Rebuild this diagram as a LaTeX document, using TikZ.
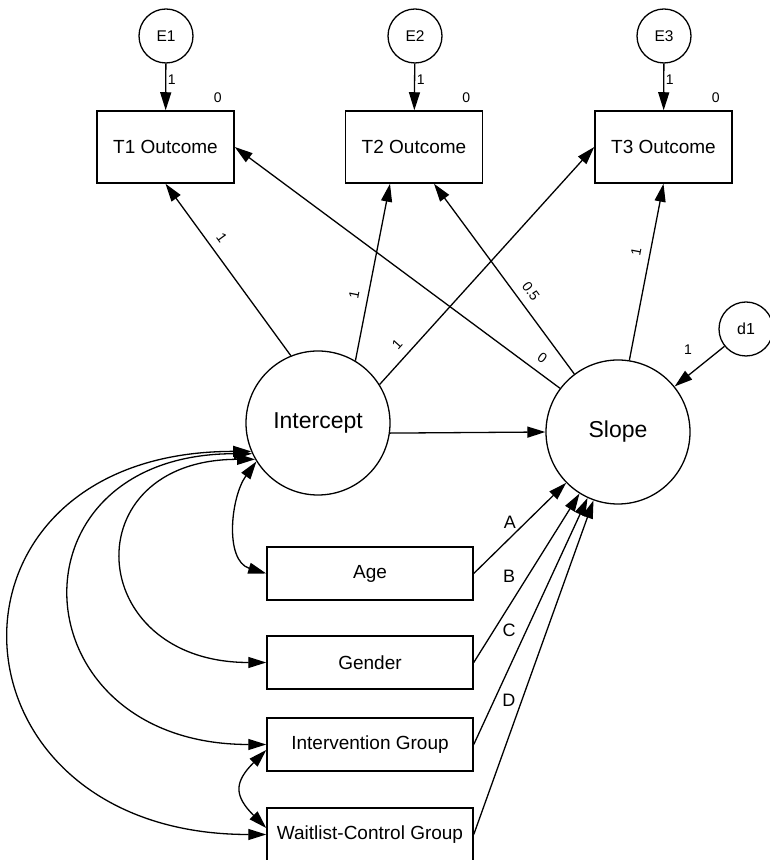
\documentclass[tikz,border=0pt]{standalone}
\usepackage{fontspec}
\setmainfont{Liberation Sans}
\usetikzlibrary{arrows.meta}

\tikzset{
  latent/.style={draw, circle, line width=1.3pt, minimum size=144pt, inner sep=0pt, font=\fontsize{23}{26}\selectfont},
  resid/.style={draw, circle, line width=1.3pt, minimum size=54pt, inner sep=0pt, font=\fontsize{15.5}{18}\selectfont},
  outbox/.style={draw, line width=1.5pt, minimum width=137pt, minimum height=72pt, font=\fontsize{19}{22}\selectfont},
  predbox/.style={draw, line width=1.5pt, minimum width=206pt, minimum height=53pt, font=\fontsize{19}{22}\selectfont},
  regr/.style={-{Triangle[length=18pt,width=11pt]}, line width=1.3pt},
  covar/.style={{Triangle[length=18pt,width=11pt]}-{Triangle[length=18pt,width=11pt]}, line width=1.3pt},
  coef/.style={font=\fontsize{14}{16}\selectfont, inner sep=1.5pt},
  letter/.style={font=\fontsize{18}{20}\selectfont, inner sep=1pt}
}

\begin{document}
\begin{tikzpicture}[x=1pt,y=1pt]
    \useasboundingbox (0,0) rectangle (770,860);

    % residuals and outcomes
    \node[resid] (e1) at (166,824) {E1};
    \node[resid] (e2) at (415,824) {E2};
    \node[resid] (e3) at (664,824) {E3};

    \node[outbox] (t1) at (165.5,713) {T1 Outcome};
    \node[outbox] (t2) at (414,713) {T2 Outcome};
    \node[outbox] (t3) at (663.5,713) {T3 Outcome};

    \node[coef] (m1) at ([xshift=-17pt,yshift=13pt]t1.north east) {0};
    \node[coef] (m2) at ([xshift=-17pt,yshift=13pt]t2.north east) {0};
    \node[coef] (m3) at ([xshift=-17pt,yshift=13pt]t3.north east) {0};

    % growth factors
    \node[latent] (int) at (318,437) {Intercept};
    \node[latent] (slope) at (618,428) {Slope};
    \node[resid, font=\fontsize{16}{18}\selectfont] (d1) at (746,531) {d1};

    % predictors
    \node[predbox] (age) at (370,286.5) {Age};
    \node[predbox] (gender) at (370,197.5) {Gender};
    \node[predbox] (inter) at (370,115.5) {Intervention Group};
    \node[predbox] (wait) at (370,25.5) {Waitlist-Control Group};

    \draw[regr] (e1) -- (t1) node[coef, pos=0.35, right] {1};
    \draw[regr] (e2) -- (t2) node[coef, pos=0.35, right] {1};
    \draw[regr] (e3) -- (t3) node[coef, pos=0.35, right] {1};

    \draw[regr] (int.112) -- (t1.south) node[coef, pos=0.64, sloped, above=7pt] {1};
    \draw[regr] (int.59) -- ([xshift=-24pt]t2.south) node[coef, pos=0.36, sloped, above=7pt] {1};
    \draw[regr] (int.32) -- (t3.west) node[coef, pos=0.13, sloped, above=7pt] {1};
    \draw[regr] (slope.143) -- (t1.east) node[coef, pos=0.08, sloped, above=7pt] {0};
    \draw[regr] (slope.127) -- ([xshift=20pt]t2.south) node[coef, pos=0.39, sloped, above=7pt] {0.5};
    \draw[regr] (slope.81) -- (t3.south) node[coef, pos=0.6, sloped, above=7pt] {1};
    \draw[regr] (int.-8) -- (slope.west);
    \draw[regr] (d1) -- (slope) node[coef, pos=0.45, above left=8pt] {1};

    \draw[regr] (age.east) -- (slope) node[letter, pos=0.39, above=8.5pt] {A};
    \draw[regr] (gender.east) -- (slope) node[letter, pos=0.51, left=11pt] {B};
    \draw[regr] (inter.east) -- (slope) node[letter, pos=0.465, left=9.5pt] {C};
    \draw[regr] (wait.east) -- (slope) node[letter, pos=0.403, left=5pt] {D};

    % covariances
    \draw[covar] (int.212) to[out=234, in=163] (age.west);
    \draw[covar] (int.210) to[out=180, in=180, looseness=2.3] (gender.west);
    \draw[covar] (int.205) to[out=180, in=180, looseness=2.2] (inter.west);
    \draw[covar] (int.203) to[out=180, in=180, looseness=2.2] (wait.west);
    \draw[covar] ([yshift=-5.5pt]inter.west) to[out=225, in=135, looseness=1.5] ([yshift=6.5pt]wait.west);
\end{tikzpicture}
\end{document}
